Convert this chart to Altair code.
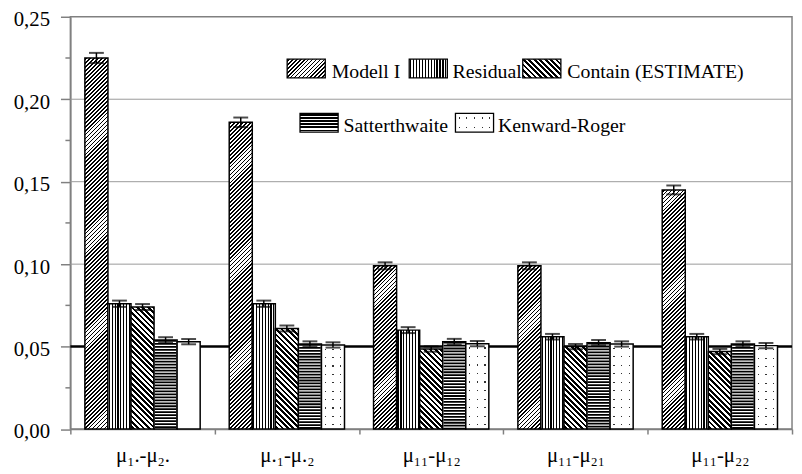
import altair as alt
import pandas as pd

# ---------------- data ----------------
groups = ["μ₁.-μ₂.", "μ.₁-μ.₂", "μ₁₁-μ₁₂", "μ₁₁-μ₂₁", "μ₁₁-μ₂₂"]
series = ["Modell I", "Residual", "Contain (ESTIMATE)", "Satterthwaite", "Kenward-Roger"]

modell_i = [0.225, 0.186, 0.099, 0.099, 0.145]
residual = [0.076, 0.076, 0.060, 0.056, 0.056]
contain = [0.074, 0.061, 0.0485, 0.050, 0.047]
satterthwaite = [0.054, 0.0516, 0.053, 0.0524, 0.0516]
kenward_roger = [0.053, 0.051, 0.0518, 0.0516, 0.0506]

err_modell_i = [0.0031, 0.0029, 0.0021, 0.0021, 0.0027]
err_residual = [0.0019, 0.0019, 0.0018, 0.0017, 0.0017]
err_contain = [0.0018, 0.0018, 0.0016, 0.0016, 0.0016]
err_satterthwaite = [0.0017, 0.0016, 0.0017, 0.0016, 0.0016]
err_kenward_roger = [0.0016, 0.0016, 0.0016, 0.0016, 0.0016]

y_ticks = [0.0, 0.05, 0.10, 0.15, 0.20, 0.25]
y_minor = [0.025, 0.075, 0.125, 0.175, 0.225]
grid_values = [0.10, 0.15, 0.20]
reference_value = [0.05]

values = [modell_i, residual, contain, satterthwaite, kenward_roger]
errors = [err_modell_i, err_residual, err_contain, err_satterthwaite, err_kenward_roger]

rows = []
for gi, g in enumerate(groups):
    for si, s in enumerate(series):
        v = values[si][gi]
        e = errors[si][gi]
        rows.append({"group": g, "series": s, "gi": gi, "si": si,
                     "value": v, "lo": v - e, "hi": v + e})
df = pd.DataFrame(rows)

# ---------------- layout / style ----------------
W, H = 729, 416.5
YMAX = 0.25
OFF_PAD = 0.63
BAR_W = W / len(groups) / (len(series) + 2 * OFF_PAD)
FONT = "Liberation Serif"
GREY = "#808080"


def stripe_stops(n, frac, dark="black", light="white"):
    stops = [{"offset": 0, "color": light}]
    k = 0
    while True:
        a = (k + (1 - frac) / 2) / n
        b = (k + (1 + frac) / 2) / n
        if a >= 1:
            break
        b = min(b, 1.0)
        a, b = round(a, 5), round(b, 5)
        stops += [{"offset": a, "color": light}, {"offset": a, "color": dark},
                  {"offset": b, "color": dark}, {"offset": b, "color": light}]
        k += 1
    stops.append({"offset": 1, "color": light})
    return stops


def diag_up(w, h, period=4.0, frac=0.45):
    s = (w + h) / (w * w + h * h)
    return {"gradient": "linear", "x1": 0, "y1": 0, "x2": w * s, "y2": h * s,
            "stops": stripe_stops((w + h) / period, frac)}


def diag_down(w, h, period=5.5, frac=0.5):
    s = (w + h) / (w * w + h * h)
    return {"gradient": "linear", "x1": 0, "y1": 1, "x2": w * s, "y2": 1 - h * s,
            "stops": stripe_stops((w + h) / period, frac)}


def vert(w, period=3.0, frac=0.4, dark="black", light="white"):
    return {"gradient": "linear", "x1": 0, "y1": 0, "x2": 1, "y2": 0,
            "stops": stripe_stops(max(1, round(w / period)), frac, dark, light)}


def horiz(h, period=3.0, frac=0.6, dark="black", light="white"):
    return {"gradient": "linear", "x1": 0, "y1": 0, "x2": 0.000001, "y2": 1,
            "stops": stripe_stops(max(1, round(h / period)), frac, dark, light)}


def fills_for(si, w, h, blank=False, in_plot=True):
    """list of (fill, stroked) layers for one bar/swatch"""
    if si == 0:
        return [(diag_up(w, h), True)]
    if si == 1:
        return [(vert(w), True)]
    if si == 2:
        return [(diag_down(w, h), True)]
    if si == 3:
        # in the plot the horizontal lines are drawn by a dashed rule on top
        return [("white" if in_plot else horiz(h), True)]
    if blank:
        return [("white", True)]
    return [(vert(w, period=7.8, frac=0.16, dark="#333333"), False),
            (horiz(h, period=8.5, frac=0.14, dark="rgba(255,255,255,0)", light="white"), True)]


x_axis = alt.Axis(title=None, labelAngle=0, tickBand="extent", tickSize=5,
                  tickColor=GREY, tickWidth=1.5, domainColor=GREY, domainWidth=1.5,
                  labelFont=FONT, labelFontSize=21, labelColor="black",
                  labelPadding=11, grid=False)
y_axis = alt.Axis(title=None, values=y_ticks,
                  labelExpr="replace(format(datum.value, '.2f'), '.', ',')",
                  tickSize=10, tickColor=GREY, tickWidth=1.5, domainColor=GREY,
                  domainWidth=1.5, labelFont=FONT, labelFontSize=21,
                  labelColor="black", labelPadding=11, labelOffset=3, grid=False)

x_scale = alt.Scale(domain=groups, paddingInner=0, paddingOuter=0)
xo_scale = alt.Scale(domain=series, paddingInner=0, paddingOuter=OFF_PAD)
y_scale = alt.Scale(domain=[0, YMAX], nice=False, zero=True)


def X():
    return alt.X("group:N", scale=x_scale, axis=x_axis)


def XO():
    return alt.XOffset("series:N", scale=xo_scale)


def Y(field):
    return alt.Y(field, scale=y_scale, axis=y_axis)


layers = []

# grid lines
layers.append(alt.Chart(pd.DataFrame({"v": grid_values})).mark_rule(
    color="#9a9a9a", strokeWidth=1).encode(y=Y("v:Q")))
# minor ticks on the y axis
layers.append(alt.Chart(pd.DataFrame({"v": y_minor})).mark_rule(
    color=GREY, strokeWidth=1.5).encode(y=Y("v:Q"), x=alt.value(-5), x2=alt.value(0)))
# reference line at 0.05
layers.append(alt.Chart(pd.DataFrame({"v": reference_value})).mark_rule(
    color="black", strokeWidth=2.5).encode(y=Y("v:Q")))

# bars, one layer per bar so each hatch is drawn at its own scale
for gi in range(len(groups)):
    for si in range(len(series)):
        h = values[si][gi] / YMAX * H
        blank = (si == 4 and gi == 0)
        for fill, stroked in fills_for(si, BAR_W, h, blank):
            mk = dict(fill=fill)
            if stroked:
                mk.update(stroke="black", strokeWidth=1.5)
            else:
                mk.update(strokeWidth=0)
            layers.append(
                alt.Chart(df)
                .transform_filter((alt.datum.gi == gi) & (alt.datum.si == si))
                .mark_bar(**mk)
                .encode(x=X(), xOffset=XO(), y=Y("value:Q"))
            )

# horizontal hatch of the Satterthwaite bars: a wide dashed rule inside each bar
layers.append(
    alt.Chart(df)
    .transform_filter(alt.datum.si == 3)
    .mark_rule(color="black", strokeWidth=BAR_W - 1.5, strokeDash=[1.8, 1.2], strokeCap="butt")
    .encode(x=X(), xOffset=XO(), y=Y("value:Q"), y2=alt.datum(0))
)

# error bars
layers.append(alt.Chart(df).mark_rule(color="black", strokeWidth=1.5).encode(
    x=X(), xOffset=XO(), y=Y("lo:Q"), y2="hi:Q"))
for f in ["lo:Q", "hi:Q"]:
    layers.append(alt.Chart(df).mark_tick(color="black", thickness=2, size=15).encode(
        x=X(), xOffset=XO(), y=Y(f)))

# legend (inside plot area)
SW_W, SW_H = 38.5, 19
legend_pos = [  # (swatch x, swatch top y, text x)
    (219, 42.8, 264),
    (342.3, 42.8, 386),
    (457, 42.8, 502),
    (232, 97.5, 276),
    (389, 97.5, 432),
]
for si, (lx, ly, tx) in enumerate(legend_pos):
    for fill, stroked in fills_for(si, SW_W, SW_H, in_plot=False):
        mk = dict(fill=fill)
        if stroked:
            mk.update(stroke="black", strokeWidth=1.3)
        else:
            mk.update(strokeWidth=0)
        layers.append(
            alt.Chart(pd.DataFrame({"series": [series[si]]})).mark_rect(**mk).encode(
                x=alt.value(lx), x2=alt.value(lx + SW_W),
                y=alt.value(ly), y2=alt.value(ly + SW_H))
        )
    layers.append(
        alt.Chart(pd.DataFrame({"series": [series[si]]})).mark_text(
            font=FONT, fontSize=20, align="left", baseline="alphabetic", color="black"
        ).encode(text="series:N", x=alt.value(tx), y=alt.value(ly + SW_H))
    )

chart = (
    alt.layer(*layers)
    .properties(width=W, height=H,
                padding={"left": 63, "top": 6.5, "right": 2, "bottom": 40},
                autosize=alt.AutoSizeParams(type="none"))
    .configure(font=FONT)
    .configure_view(stroke=GREY, strokeWidth=1.5)
)

chart.save("out.html", embed_options={"renderer": "svg", "actions": False})
